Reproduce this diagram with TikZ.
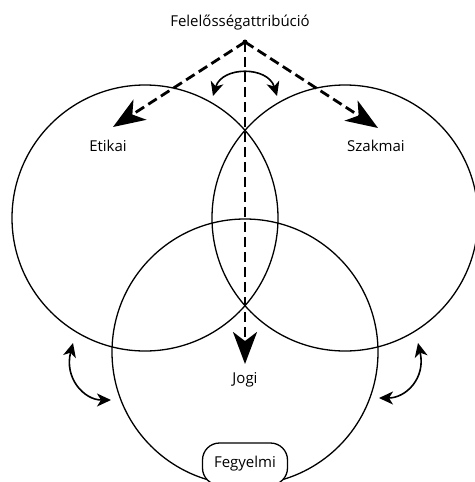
\documentclass[tikz,border=0pt]{standalone}
\usepackage{fontspec}
\setmainfont{Open Sans}
\usetikzlibrary{arrows.meta,positioning}
\tikzset{%
  kor/.style={line width=1.3pt},
  szaggatott/.style={line width=2.8pt,dash pattern=on 10pt off 5pt,
    -{Stealth[length=32pt,width=24pt,inset=9pt]}},
  ketiranyu/.style={line width=1.6pt,
    {Stealth[length=14pt,width=13pt,inset=4pt]}-{Stealth[length=14pt,width=13pt,inset=4pt]}},
  felirat/.style={font=\fontsize{15}{17}\selectfont,text=black}
}

\begin{document}
\begin{tikzpicture}[x=1pt,y=-1pt]

    \useasboundingbox (0,0) rectangle (474,482);

    % Circles
    \def\r{133pt}
    \coordinate (etikaiK) at (145,218);
    \coordinate (szakmaiK) at (345,218);
    \coordinate (jogiK) at (245,352);
    \foreach \k in {etikaiK,szakmaiK,jogiK}
        \draw[kor] (\k) circle[radius=\r];

    % Labels
    \node[felirat] (cim) at (240,23) {Felelősségattribúció};
    \node[felirat] (etikai) at (108,146) {Etikai};
    \node[felirat] (szakmai) at (376,146) {Szakmai};
    \node[felirat] (jogi) at (245,380) {Jogi};
    \node[felirat,draw=black,kor,fill=white,rounded corners=17pt,
        minimum width=85pt,minimum height=42pt] (fegyelmi) at (245,464) {Fegyelmi};

    % Dashed arrows from the apex
    \coordinate (csucs) at (245,42);
    \coordinate (balVeg) at (113,127);
    \coordinate (jobbVeg) at (378,128);
    \coordinate (lentVeg) at (245,364);
    \foreach \v in {balVeg,jobbVeg,lentVeg}
        \draw[szaggatott] (csucs) -- (\v);
    \fill (csucs) circle[radius=2.5pt];

    % Curved double arrows
    \coordinate (fentB) at (213,96);
    \coordinate (fentJ) at (277,96);
    \draw[ketiranyu] (fentB) .. controls (222,66) and (268,66) .. (fentJ);

    \coordinate (balA) at (73,343);
    \coordinate (balB) at (111,400);
    \draw[ketiranyu] (balA) .. controls (64,378) and (84,400) .. (balB);

    \coordinate (jobbA) at (418,343);
    \coordinate (jobbB) at (379,398);
    \draw[ketiranyu] (jobbA) .. controls (426,378) and (406,398) .. (jobbB);

\end{tikzpicture}
\end{document}
